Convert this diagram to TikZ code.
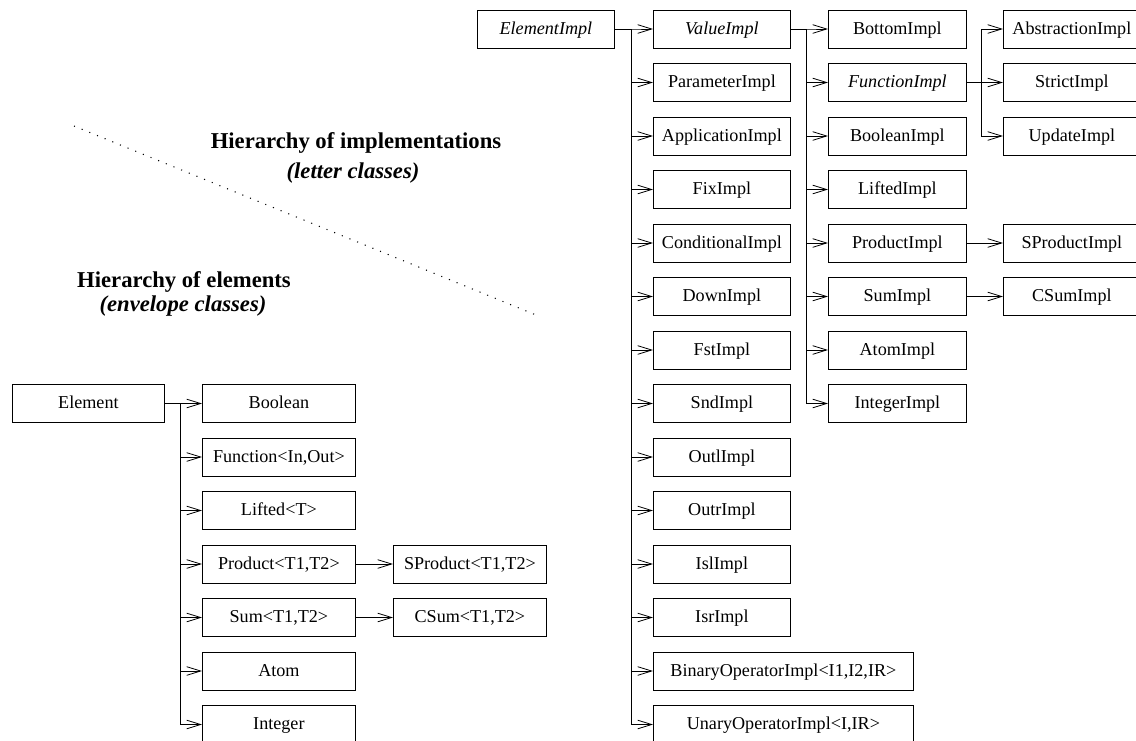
\documentclass[tikz,border=0pt]{standalone}
\usepackage{fontspec}
\setmainfont{Liberation Serif}
\usetikzlibrary{arrows.meta}
\begin{document}
\begin{tikzpicture}[x=0.75pt,y=-0.75pt,
  box/.style={draw,line width=0.6pt,minimum height=28.5pt,inner sep=0pt,text height=10pt,text depth=2.5pt,anchor=west,font=\fontsize{13.6}{16}\selectfont},
  wR/.style={minimum width=102.75pt},
  wC/.style={minimum width=103.5pt},
  wL/.style={minimum width=114.75pt},
  wW/.style={minimum width=195pt},
  arr/.style={line width=0.6pt,-{Straight Barb[length=10.5pt,width=6.5pt,line width=0.6pt]}},
  ttl/.style={anchor=base,inner sep=0pt,font=\fontsize{17}{20}\selectfont\bfseries},
  ttli/.style={anchor=base,inner sep=0pt,font=\fontsize{17}{20}\selectfont\bfseries\itshape},
  dotline/.style={line width=0.8pt,dash pattern=on 0.8pt off 5.4pt}
]
\useasboundingbox (0,0) rectangle (1136,740);

% titles and separator
\node[ttl]  (t1) at (356,148) {Hierarchy of implementations};
\node[ttli] (t2) at (353,178) {(letter classes)};
\node[ttl]  (t3) at (184,287) {Hierarchy of elements};
\node[ttli] (t4) at (183,311) {(envelope classes)};
\coordinate (d1) at (74,126);
\coordinate (d2) at (536,315);
\draw[dotline] (d1) -- (d2);

% right tree, column 1
\node[box,wR] (ElementImpl) at (477,29) {\itshape ElementImpl};
% column 2
\node[box,wR] (ValueImpl)       at (653,29)    {\itshape ValueImpl};
\node[box,wR] (ParameterImpl)   at (653,82.5)  {ParameterImpl};
\node[box,wR] (ApplicationImpl) at (653,136)   {ApplicationImpl};
\node[box,wR] (FixImpl)         at (653,189.5) {FixImpl};
\node[box,wR] (ConditionalImpl) at (653,243)   {ConditionalImpl};
\node[box,wR] (DownImpl)        at (653,296.5) {DownImpl};
\node[box,wR] (FstImpl)         at (653,350)   {FstImpl};
\node[box,wR] (SndImpl)         at (653,403.5) {SndImpl};
\node[box,wR] (OutlImpl)        at (653,457)   {OutlImpl};
\node[box,wR] (OutrImpl)        at (653,510.5) {OutrImpl};
\node[box,wR] (IslImpl)         at (653,564)   {IslImpl};
\node[box,wR] (IsrImpl)         at (653,617.5) {IsrImpl};
\node[box,wW] (BinOp)           at (653,671)   {BinaryOperatorImpl<I1,I2,IR>};
\node[box,wW] (UnOp)            at (653,724.5) {UnaryOperatorImpl<I,IR>};
% column 3
\node[box,wC] (BottomImpl)   at (828,29)    {BottomImpl};
\node[box,wC] (FunctionImpl) at (828,82.5)  {\itshape FunctionImpl};
\node[box,wC] (BooleanImpl)  at (828,136)   {BooleanImpl};
\node[box,wC] (LiftedImpl)   at (828,189.5) {LiftedImpl};
\node[box,wC] (ProductImpl)  at (828,243)   {ProductImpl};
\node[box,wC] (SumImpl)      at (828,296.5) {SumImpl};
\node[box,wC] (AtomImpl)     at (828,350)   {AtomImpl};
\node[box,wC] (IntegerImpl)  at (828,403.5) {IntegerImpl};
% column 4
\node[box,wR] (AbstractionImpl) at (1003,29)    {AbstractionImpl};
\node[box,wR] (StrictImpl)      at (1003,82.5)  {StrictImpl};
\node[box,wR] (UpdateImpl)      at (1003,136)   {UpdateImpl};
\node[box,wR] (SProductImpl)    at (1003,243)   {SProductImpl};
\node[box,wR] (CSumImpl)        at (1003,296.5) {CSumImpl};

% left tree
\node[box,minimum width=114pt] (Element) at (12,403.5) {Element};
\node[box,wL] (Boolean)  at (202,403.5) {Boolean};
\node[box,wL] (Function) at (202,457)   {Function<In,Out>};
\node[box,wL] (Lifted)   at (202,510.5) {Lifted<T>};
\node[box,wL] (Product)  at (202,564)   {Product<T1,T2>};
\node[box,wL] (Sum)      at (202,617.5) {Sum<T1,T2>};
\node[box,wL] (Atom)     at (202,671)   {Atom};
\node[box,wL] (Integer)  at (202,724.5) {Integer};
\node[box,wL] (SProduct) at (393,564)   {SProduct<T1,T2>};
\node[box,wL] (CSum)     at (393,617.5) {CSum<T1,T2>};

% connectors: ElementImpl
\foreach \c in {ValueImpl,ParameterImpl,ApplicationImpl,FixImpl,ConditionalImpl,DownImpl,FstImpl,SndImpl,OutlImpl,OutrImpl,IslImpl,IsrImpl,BinOp,UnOp}
  \draw[arr] (ElementImpl.east) -- ++(17,0) |- (\c.west);
% ValueImpl
\foreach \c in {BottomImpl,FunctionImpl,BooleanImpl,LiftedImpl,ProductImpl,SumImpl,AtomImpl,IntegerImpl}
  \draw[arr] (ValueImpl.east) -- ++(16,0) |- (\c.west);
% FunctionImpl
\foreach \c in {AbstractionImpl,StrictImpl,UpdateImpl}
  \draw[arr] (FunctionImpl.east) -- ++(15,0) |- (\c.west);
\draw[arr] (ProductImpl.east) -- (SProductImpl.west);
\draw[arr] (SumImpl.east) -- (CSumImpl.west);
% Element
\foreach \c in {Boolean,Function,Lifted,Product,Sum,Atom,Integer}
  \draw[arr] (Element.east) -- ++(16,0) |- (\c.west);
\draw[arr] (Product.east) -- (SProduct.west);
\draw[arr] (Sum.east) -- (CSum.west);
\end{tikzpicture}
\end{document}
